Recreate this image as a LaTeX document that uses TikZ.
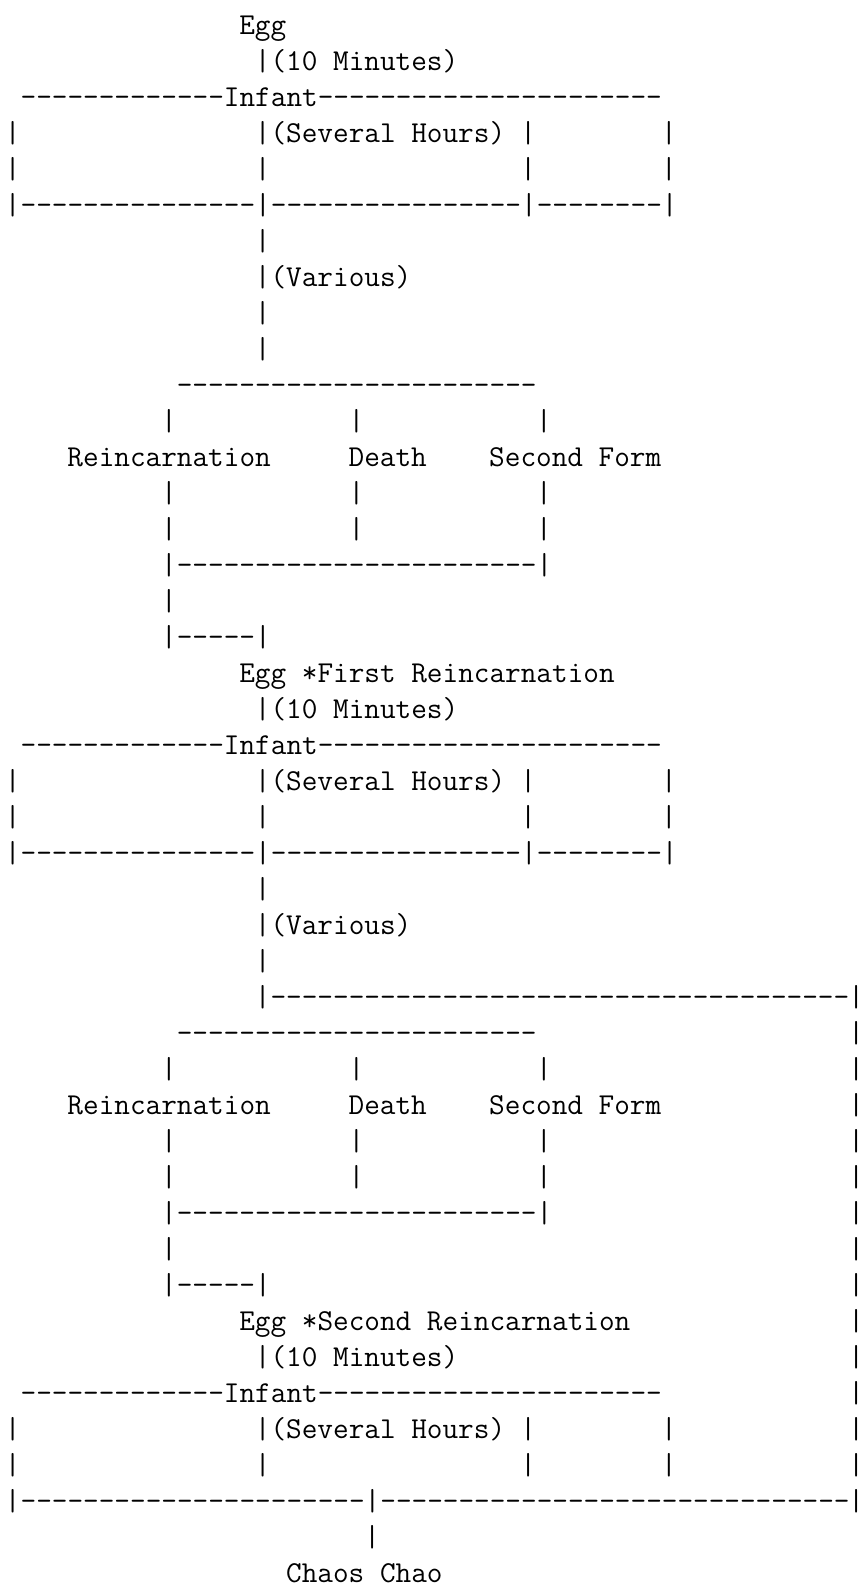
\documentclass[tikz,border=0pt]{standalone}
\newcommand\asciifont{\ttfamily\fontsize{30.37}{36}\selectfont}
\newcommand\hy[1]{\foreach \k in {1,...,#1}{-\kern0pt}}
\begin{document}
\begin{tikzpicture}[x=15.62pt,y=-36pt,
	txt/.style={anchor=base west,inner sep=0pt,outer sep=0pt,font=\asciifont},
	rbar/.style={txt,anchor=base}]
	\useasboundingbox (-5pt,-1.7pt) rectangle (853pt,-1586.7pt);
	% egg -> infant, three times
	\foreach \o/\lbl in {0/Egg, 18/Egg *First Reincarnation, 36/Egg *Second Reincarnation}{
		\node[txt] (egg\o) at (15,\o+1) {\lbl};
		\node[txt] (min\o) at (16,\o+2) {|(10 Minutes)};
		\node[txt] (inf\o) at (1,\o+3) {\hy{13}Infant\hy{22}};
		\node[txt] (hrs\o) at (16,\o+4) {|(Several Hours)};
		\foreach \r in {4,5}{
			\foreach \c in {0,33,42}{\node[txt] (b\o-\r-\c) at (\c,\o+\r) {|};}
		}
		\node[txt] (b\o-5-16) at (16,\o+5) {|};
	}
	% various -> reincarnation / death / second form
	\foreach \o in {0,18}{
		\node[txt] (split\o) at (0,\o+6) {|\hy{15}|\hy{16}|\hy{8}|};
		\node[txt] (b\o-7) at (16,\o+7) {|};
		\node[txt] (var\o) at (16,\o+8) {|(Various)};
		\node[txt] (b\o-9) at (16,\o+9) {|};
		\node[txt] (fork\o) at (11,\o+11) {\hy{23}};
		\foreach \r in {12,14,15}{
			\foreach \c in {10,22,34}{\node[txt] (b\o-\r-\c) at (\c,\o+\r) {|};}
		}
		\node[txt] (re\o) at (4,\o+13) {Reincarnation};
		\node[txt] (de\o) at (22,\o+13) {Death};
		\node[txt] (sf\o) at (31,\o+13) {Second Form};
		\node[txt] (join\o) at (10,\o+16) {|\hy{23}|};
		\node[txt] (b\o-17) at (10,\o+17) {|};
		\node[txt] (back\o) at (10,\o+18) {|\hy{5}|};
	}
	\node[txt] (b0-10) at (16,10) {|};
	\node[txt] (long) at (16,28) {|\hy{37}};
	% right-hand bar down to the last row
	\foreach \r in {28,...,42}{\node[rbar] (rb\r) at (54.5,\r) {\makebox[0pt]{|}};}
	% chaos chao
	\node[txt] (merge) at (0,42) {|\hy{22}|\hy{30}};
	\node[txt] (b43) at (23,43) {|};
	\node[txt] (chaos) at (18,44) {Chaos Chao};
\end{tikzpicture}
\end{document}
